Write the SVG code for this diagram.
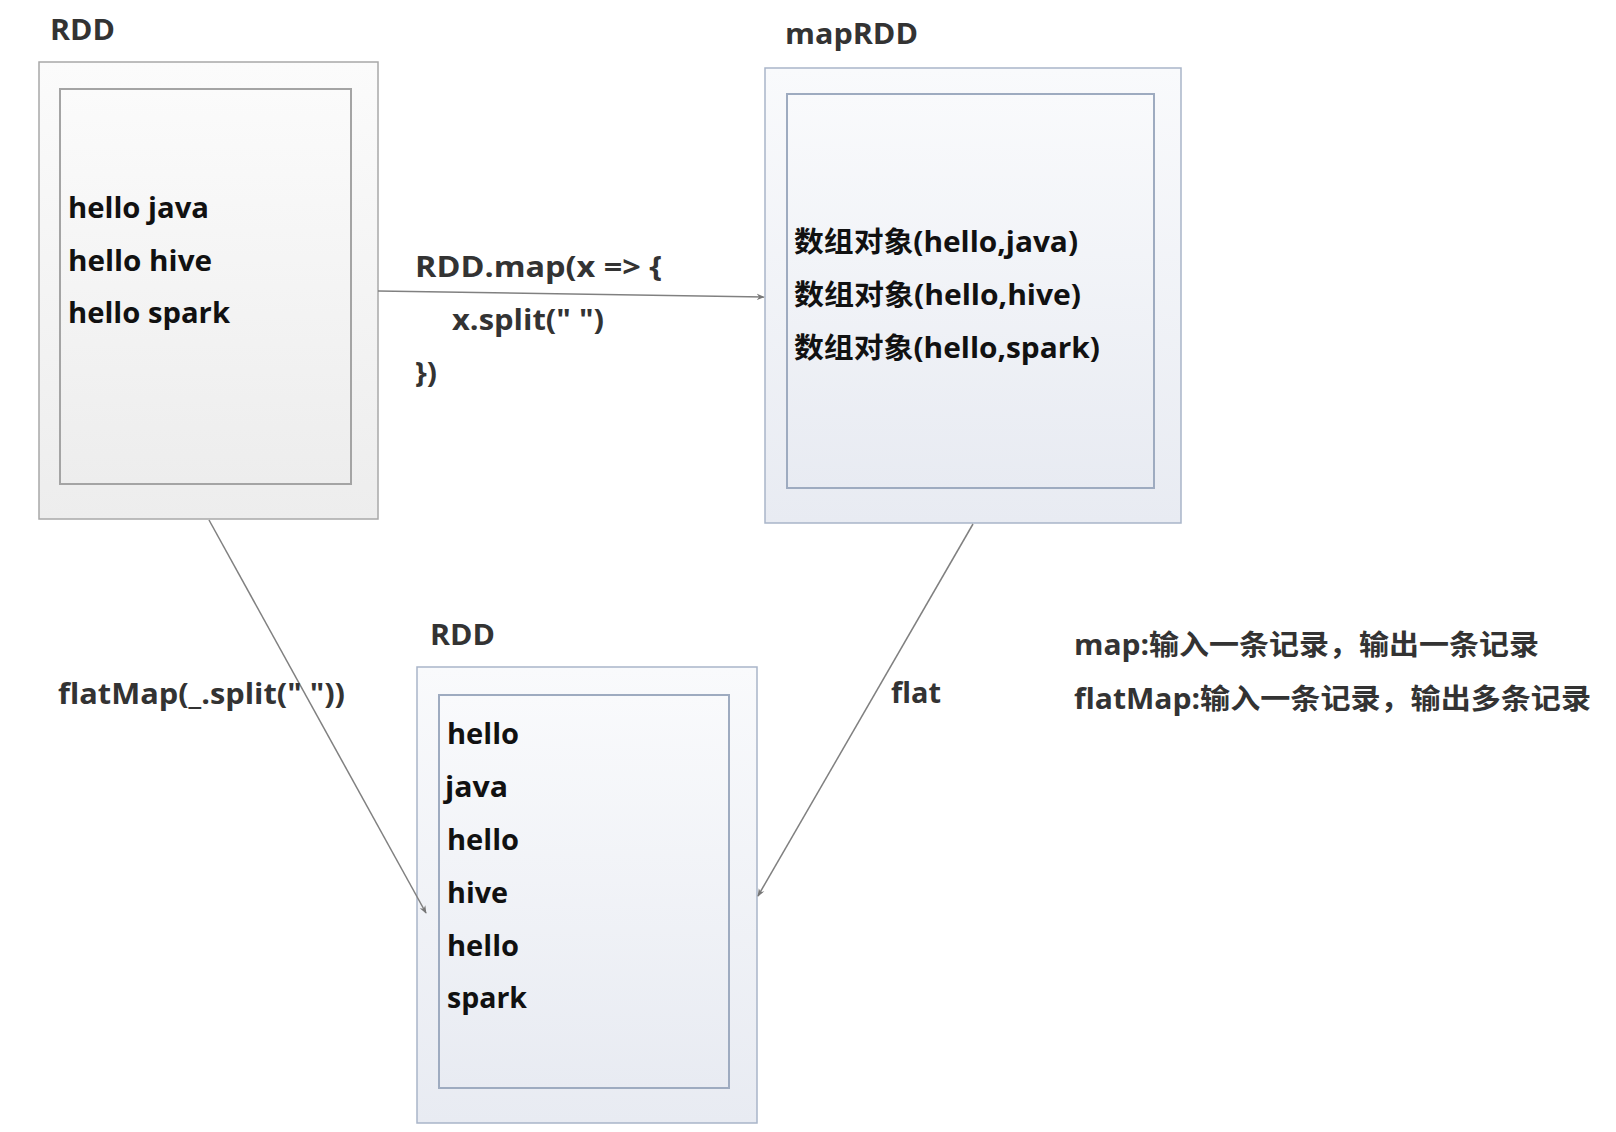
<svg xmlns="http://www.w3.org/2000/svg" width="1616" height="1132" viewBox="0 0 1616 1132">
<defs>
<linearGradient id="gGray" x1="0" y1="0" x2="0" y2="1">
<stop offset="0" stop-color="#fbfbfb"/><stop offset="1" stop-color="#ededed"/>
</linearGradient>
<linearGradient id="gBlue" x1="0" y1="0" x2="0" y2="1">
<stop offset="0" stop-color="#f9fafc"/><stop offset="1" stop-color="#e8ebf2"/>
</linearGradient>
<marker id="arr" viewBox="0 0 10 10" refX="9" refY="5" markerWidth="8" markerHeight="8" orient="auto" markerUnits="userSpaceOnUse">
<path d="M0,1 L10,5 L0,9 L3,5 Z" fill="#777"/>
</marker>
</defs>
<style>
text{font-family:"Open Sans","Noto Sans CJK SC",sans-serif;font-weight:bold;font-size:28px;fill:#111}
.lbl{fill:#333}
.og{fill:url(#gGray);stroke:#a8a8a8;stroke-width:1.5}
.ig{fill:url(#gGray);stroke:#a4a4a4;stroke-width:2}
.ob{fill:url(#gBlue);stroke:#a9b5c9;stroke-width:1.5}
.ib{fill:url(#gBlue);stroke:#9eabc0;stroke-width:2}
.con{stroke:#808080;stroke-width:1.5;fill:none}
</style>
<rect width="1616" height="1132" fill="#ffffff"/>

<g id="rdd1">
<text class="lbl" x="50" y="40" textLength="65" lengthAdjust="spacingAndGlyphs">RDD</text>
<rect class="og" x="39" y="62" width="339" height="457"/>
<rect class="ig" x="60" y="89" width="291" height="395"/>
<text x="68" y="218" textLength="141" lengthAdjust="spacingAndGlyphs">hello java</text>
<text x="68" y="271" textLength="144" lengthAdjust="spacingAndGlyphs">hello hive</text>
<text x="68" y="323" textLength="162" lengthAdjust="spacingAndGlyphs">hello spark</text>
</g>

<g id="maprdd">
<text class="lbl" x="785" y="44" textLength="133" lengthAdjust="spacingAndGlyphs">mapRDD</text>
<rect class="ob" x="765" y="68" width="416" height="455"/>
<rect class="ib" x="787" y="94" width="367" height="394"/>
<text x="794" y="252" textLength="284" lengthAdjust="spacingAndGlyphs">数组对象(hello,java)</text>
<text x="794" y="305" textLength="287" lengthAdjust="spacingAndGlyphs">数组对象(hello,hive)</text>
<text x="794" y="358" textLength="306" lengthAdjust="spacingAndGlyphs">数组对象(hello,spark)</text>
</g>

<g id="rdd2">
<text class="lbl" x="430" y="645" textLength="65" lengthAdjust="spacingAndGlyphs">RDD</text>
<rect class="ob" x="417" y="667" width="340" height="456"/>
<rect class="ib" x="439" y="695" width="290" height="393"/>
<text x="447" y="744" textLength="72" lengthAdjust="spacingAndGlyphs">hello</text>
<text x="445" y="797" textLength="63" lengthAdjust="spacingAndGlyphs">java</text>
<text x="447" y="850" textLength="72" lengthAdjust="spacingAndGlyphs">hello</text>
<text x="447" y="903" textLength="61" lengthAdjust="spacingAndGlyphs">hive</text>
<text x="447" y="956" textLength="72" lengthAdjust="spacingAndGlyphs">hello</text>
<text x="447" y="1008" textLength="80" lengthAdjust="spacingAndGlyphs">spark</text>
</g>

<g id="connectors">
<line class="con" x1="378" y1="291" x2="764" y2="297" marker-end="url(#arr)"/>
<line class="con" x1="209" y1="520" x2="426" y2="913" marker-end="url(#arr)"/>
<line class="con" x1="973" y1="524" x2="758" y2="896" marker-end="url(#arr)"/>
<text class="lbl" x="415" y="277" textLength="247" lengthAdjust="spacingAndGlyphs">RDD.map(x =&gt; {</text>
<text class="lbl" x="452" y="330" textLength="152" lengthAdjust="spacingAndGlyphs">x.split(" ")</text>
<text class="lbl" x="415" y="383" textLength="22" lengthAdjust="spacingAndGlyphs">})</text>
<text class="lbl" x="58" y="704" textLength="287" lengthAdjust="spacingAndGlyphs">flatMap(_.split(" "))</text>
<text class="lbl" x="891" y="703" textLength="50" lengthAdjust="spacingAndGlyphs">flat</text>
</g>

<g id="note">
<text class="lbl" x="1074" y="655" textLength="465" lengthAdjust="spacingAndGlyphs">map:输入一条记录，输出一条记录</text>
<text class="lbl" x="1074" y="709" textLength="517" lengthAdjust="spacingAndGlyphs">flatMap:输入一条记录，输出多条记录</text>
</g>
</svg>
